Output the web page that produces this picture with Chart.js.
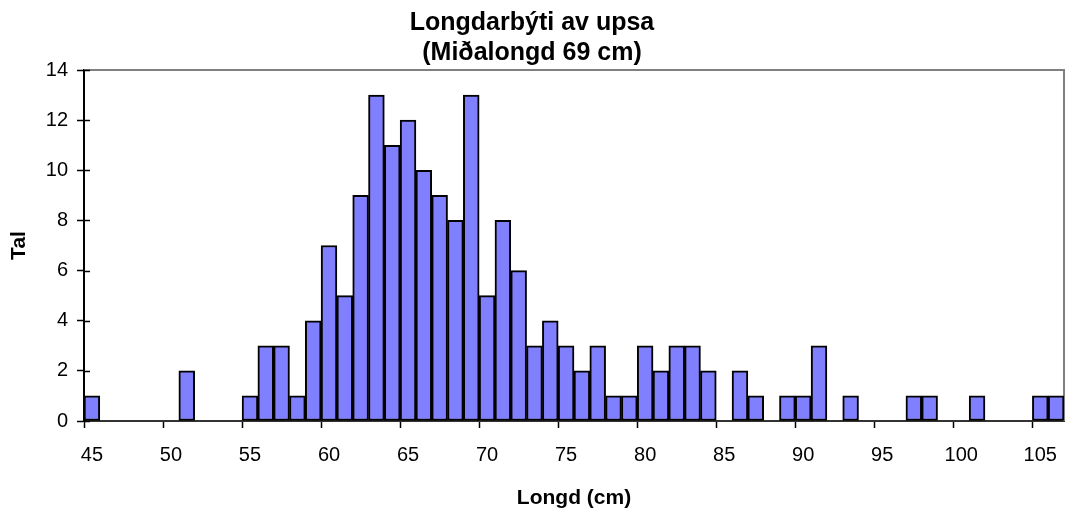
<!DOCTYPE html>
<html>
<head>
<meta charset="utf-8">
<script src="https://cdn.jsdelivr.net/npm/chart.js@4"></script>
<style>
  html, body { margin: 0; padding: 0; background: #fff; }
  #wrap { width: 1066px; height: 511px; }
</style>
</head>
<body>
<div id="wrap"><canvas id="lenChart" width="1066" height="511"></canvas></div>
<script>
// Longd (cm) - one bin per cm
var lengths = [45, 46, 47, 48, 49, 50, 51, 52, 53, 54, 55, 56, 57, 58, 59, 60, 61, 62, 63, 64, 65,
               66, 67, 68, 69, 70, 71, 72, 73, 74, 75, 76, 77, 78, 79, 80, 81, 82, 83, 84, 85,
               86, 87, 88, 89, 90, 91, 92, 93, 94, 95, 96, 97, 98, 99, 100, 101, 102, 103, 104, 105, 106];
// Tal (count per bin)
var counts = [1, 0, 0, 0, 0, 0, 2, 0, 0, 0, 1, 3, 3, 1, 4, 7, 5, 9, 13, 11, 12,
              10, 9, 8, 13, 5, 8, 6, 3, 4, 3, 2, 3, 1, 1, 3, 2, 3, 3, 2, 0,
              2, 1, 0, 1, 1, 3, 0, 1, 0, 0, 0, 1, 1, 0, 0, 1, 0, 0, 0, 1, 1];
// labelled x ticks
var xTickLabels = [45, 50, 55, 60, 65, 70, 75, 80, 85, 90, 95, 100, 105];
var yTicks = [0, 2, 4, 6, 8, 10, 12, 14];

var fontFamily = '"Liberation Sans", Arial, sans-serif';
Chart.defaults.font.family = fontFamily;
Chart.defaults.color = '#000';

// grey frame on top and right of the plot, like the excel original
var frame = {
    id: 'frame',
    beforeDatasetsDraw: function (chart) {
        var a = chart.chartArea, c = chart.ctx;
        c.save();
        c.strokeStyle = '#808080';
        c.lineWidth = 2;
        c.beginPath();
        c.moveTo(a.left, a.top);
        c.lineTo(a.right, a.top);
        c.lineTo(a.right, a.bottom);
        c.stroke();
        // y ticks cross the axis a bit
        var y = chart.scales.y;
        c.strokeStyle = '#000';
        c.lineWidth = 1.5;
        yTicks.forEach(function (v) {
            var py = Math.round(y.getPixelForValue(v)) + 0.5;
            c.beginPath();
            c.moveTo(a.left, py);
            c.lineTo(a.left + 6, py);
            c.stroke();
        });
        c.restore();
    }
};

var ctx = document.getElementById('lenChart').getContext('2d');
var lenChart = new Chart(ctx, {
    type: 'bar',
    data: {
        labels: lengths,
        datasets: [{
            label: 'Tal',
            data: counts,
            backgroundColor: '#8080ff',
            borderColor: '#000',
            borderWidth: 2,
            borderSkipped: false,
            barPercentage: 1,
            categoryPercentage: 1
        }]
    },
    options: {
        responsive: false,
        animation: false,
        layout: { padding: { left: 0, right: 2, top: 0, bottom: 0 } },
        scales: {
            x: {
                offset: true,
                afterFit: function (s) {
                    s.height = 90;
                    s.paddingLeft = 0;
                    s.paddingRight = 0;
                },
                grid: {
                    offset: true,
                    drawOnChartArea: false,
                    tickLength: 7,
                    tickWidth: 1.5,
                    tickColor: function (c) {
                        return (c.index !== undefined && xTickLabels.indexOf(lengths[c.index]) >= 0) ? '#000' : 'rgba(0,0,0,0)';
                    }
                },
                border: { color: '#333', width: 2 },
                ticks: {
                    autoSkip: false,
                    maxRotation: 0,
                    padding: 15,
                    font: { size: 20 },
                    callback: function (v, i) {
                        return xTickLabels.indexOf(lengths[i]) >= 0 ? String(lengths[i]) : '';
                    }
                },
                title: {
                    display: true,
                    text: 'Longd (cm)',
                    font: { size: 21, weight: 'bold' },
                    padding: { top: 0, bottom: 0 }
                }
            },
            y: {
                min: 0,
                max: 14,
                afterFit: function (s) { s.width = 84; },
                afterBuildTicks: function (s) {
                    s.ticks = yTicks.map(function (v) { return { value: v }; });
                },
                grid: {
                    drawOnChartArea: false,
                    tickLength: 7,
                    tickWidth: 1.5,
                    tickColor: '#000'
                },
                border: { color: '#000', width: 2 },
                ticks: {
                    padding: 9,
                    font: { size: 20 }
                },
                title: {
                    display: true,
                    text: 'Tal',
                    font: { size: 21, weight: 'bold' },
                    padding: { top: 7, bottom: 0 }
                }
            }
        },
        plugins: {
            legend: { display: false },
            tooltip: { enabled: false },
            title: {
                display: true,
                text: ['Longdarbýti av upsa', '(Miðalongd 69 cm)'],
                font: { size: 25, weight: 'bold', lineHeight: 1.2 },
                color: '#000',
                padding: { top: 8, bottom: 2 }
            }
        }
    },
    plugins: [frame]
});
</script>
</body>
</html>
